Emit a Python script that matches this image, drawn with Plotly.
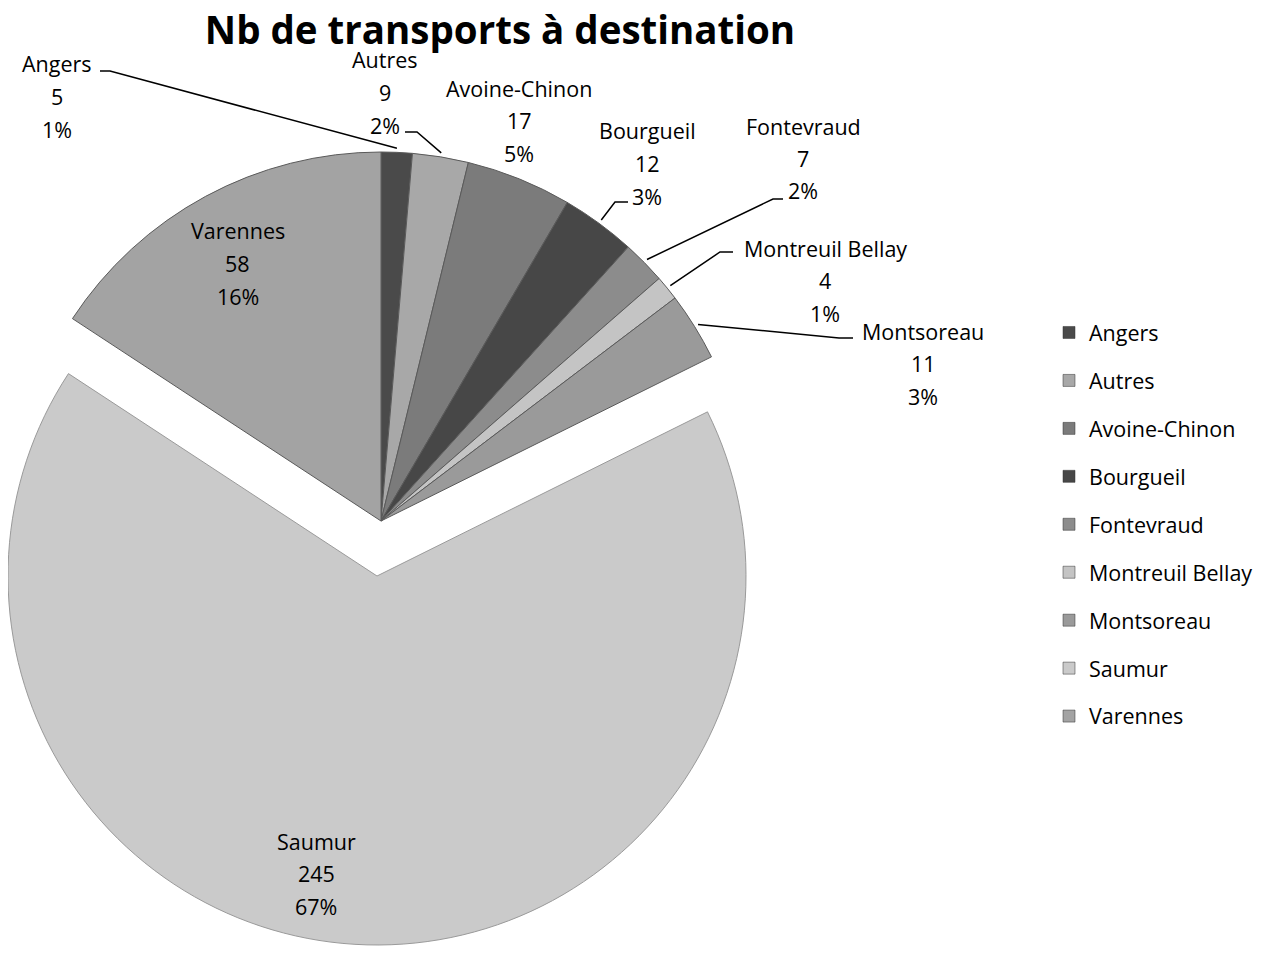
import math
import plotly.graph_objects as go

# ---------------- data ----------------
labels = ["Angers", "Autres", "Avoine-Chinon", "Bourgueil", "Fontevraud",
          "Montreuil Bellay", "Montsoreau", "Saumur", "Varennes"]
values = [5, 9, 17, 12, 7, 4, 11, 245, 58]
colors = ["#4a4a4a", "#a8a8a8", "#7b7b7b", "#474747", "#8c8c8c",
          "#c4c4c4", "#9a9a9a", "#cacaca", "#a3a3a3"]
title_text = "Nb de transports à destination"
exploded = "Saumur"

# ---------------- layout constants (screen pixels) ----------------
OFF = 8                             # page body margin
W, H = 1263, 945                    # figure size
FONT = "Open Sans"
CX, CY, R = 381, 521, 369           # main pie centre / radius
EX_DX, EX_DY = -4, 55               # explode offset of Saumur
LINE_H = 32.5                       # label line spacing
LABEL_FS = 21.5

# label text centres (first line)
label_pos = {
    "Angers": (57, 64),
    "Autres": (385, 60),
    "Avoine-Chinon": (519, 88),
    "Bourgueil": (647, 131),
    "Fontevraud": (803, 126),
    "Montreuil Bellay": (825, 248),
    "Montsoreau": (923, 331),
    "Saumur": (316, 841),
    "Varennes": (238, 231),
}
# leader line: (start x, start y, elbow x) -> horizontal to elbow, then to slice edge
leaders = {
    "Angers": (100, 71, 110),
    "Autres": (405, 132, 417),
    "Bourgueil": (628, 202, 615),
    "Fontevraud": (783, 199, 773),
    "Montreuil Bellay": (733, 252, 720),
    "Montsoreau": (853, 338, 839),
}


def px(x):
    return (x - OFF) / W


def py(y):
    return 1 - (y - OFF) / H


total = sum(values)
pcts = [round(v / total * 100) for v in values]

fig = go.Figure()

ex_i = labels.index(exploded)
main_cols = [("rgba(0,0,0,0)" if i == ex_i else c) for i, c in enumerate(colors)]
main_lines = [("rgba(0,0,0,0)" if i == ex_i else "#5a5a5a") for i in range(len(labels))]
ex_cols = [(c if i == ex_i else "rgba(0,0,0,0)") for i, c in enumerate(colors)]
ex_lines = [("#9a9a9a" if i == ex_i else "rgba(0,0,0,0)") for i in range(len(labels))]

fig.add_trace(go.Pie(
    labels=labels, values=values, sort=False, direction="clockwise", rotation=0,
    marker=dict(colors=main_cols, line=dict(color=main_lines, width=1)),
    textinfo="none", hoverinfo="label+value+percent", showlegend=False,
    domain=dict(x=[px(CX - R), px(CX + R)], y=[py(CY + R), py(CY - R)]),
))
fig.add_trace(go.Pie(
    labels=labels, values=values, sort=False, direction="clockwise", rotation=0,
    marker=dict(colors=ex_cols, line=dict(color=ex_lines, width=1)),
    textinfo="none", hoverinfo="skip", showlegend=False,
    domain=dict(x=[px(CX + EX_DX - R), px(CX + EX_DX + R)],
                y=[py(CY + EX_DY + R), py(CY + EX_DY - R)]),
))

# legend-only pies (tiny, hidden under the legend box)
for lab, col in zip(labels, colors):
    fig.add_trace(go.Pie(
        labels=[lab], values=[1], sort=False,
        marker=dict(colors=[col], line=dict(color="#333333", width=0.5)),
        textinfo="none", hoverinfo="skip", showlegend=True, legendgroup=lab,
        domain=dict(x=[px(1150), px(1150.2)], y=[py(500.2), py(500)]),
    ))

annotations = []
shapes = []
cum = 0
for lab, v, p in zip(labels, values, pcts):
    mid = (cum + v / 2) / total * 2 * math.pi
    cum += v
    tx, ty = label_pos[lab]
    for k, t in enumerate([lab, str(v), f"{p}%"]):
        annotations.append(dict(
            x=px(tx), y=py(ty + k * LINE_H), xref="paper", yref="paper",
            text=t, showarrow=False, xanchor="center", yanchor="middle",
            font=dict(family=FONT, size=LABEL_FS, color="#000000"),
        ))
    if lab in leaders:
        sx, sy, ex = leaders[lab]
        rr = R + 4
        ax = CX + rr * math.sin(mid)
        ay = CY - rr * math.cos(mid)
        shapes.append(dict(
            type="path", xref="paper", yref="paper",
            path=f"M{px(sx)},{py(sy)} L{px(ex)},{py(sy)} L{px(ax)},{py(ay)}",
            line=dict(color="#000000", width=1.5),
        ))

fig.update_layout(
    width=W, height=H,
    margin=dict(l=0, r=0, t=0, b=0),
    paper_bgcolor="white", plot_bgcolor="white",
    title=dict(text=f"<b>{title_text}</b>", x=px(500), xanchor="center",
               y=py(31), yanchor="middle", yref="container",
               font=dict(family=FONT, size=38.5, color="#000000")),
    legend=dict(x=px(1049), y=py(312), xanchor="left", yanchor="top",
                font=dict(family=FONT, size=LABEL_FS, color="#000000"),
                tracegroupgap=17, bgcolor="white", borderwidth=0,
                itemclick=False, itemdoubleclick=False),
    annotations=annotations,
    shapes=shapes,
)

fig.write_html("out.html")
